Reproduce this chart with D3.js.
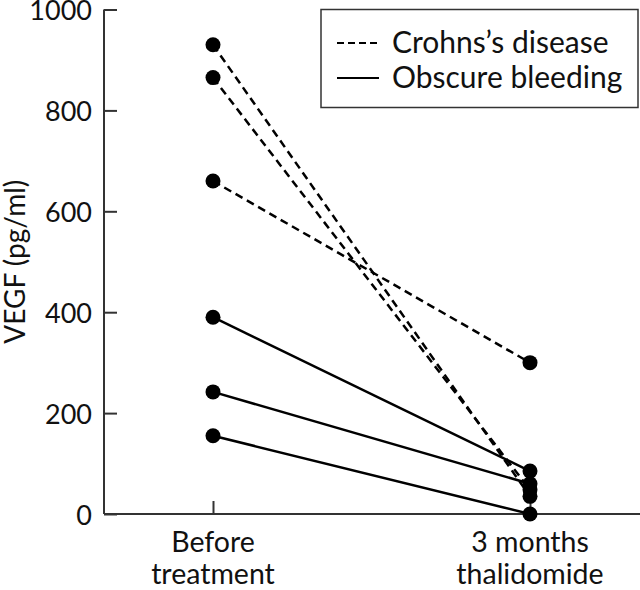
<!DOCTYPE html>
<html><head><meta charset="utf-8">
<script src="https://cdn.jsdelivr.net/npm/d3@7"></script>
<style>body{margin:0;background:#fff}</style>
</head><body>
<svg id="c" width="640" height="590"></svg>
<script>
const categories = ["Before treatment", "3 months thalidomide"];
const categoryLines = [["Before", "treatment"], ["3 months", "thalidomide"]];
const yTicks = [0, 200, 400, 600, 800, 1000];
const crohnsBefore = [930, 865, 660];
const crohnsAfter = [35, 48, 300];
const bleedingBefore = [390, 242, 155];
const bleedingAfter = [85, 60, 0];
const legendLabels = ["Crohns\u2019s disease", "Obscure bleeding"];
const yLabel = "VEGF (pg/ml)";

const FONT = "Lato, 'Noto Sans', sans-serif";
const svg = d3.select("#c");
const x = d3.scalePoint().domain(categories).range([213, 530]);
const y = d3.scaleLinear().domain([0, 1000]).range([514, 9.5]);
const axisColor = "#333";

svg.append("line").attr("x1", 104).attr("x2", 104).attr("y1", y(1000)).attr("y2", y(0))
  .attr("stroke", axisColor).attr("stroke-width", 2);
svg.append("line").attr("x1", 104).attr("x2", 640).attr("y1", y(0)).attr("y2", y(0))
  .attr("stroke", axisColor).attr("stroke-width", 2);

const ya = svg.append("g").attr("transform", "translate(104,0)")
  .call(d3.axisLeft(y).tickValues(yTicks).tickSizeInner(-13).tickSizeOuter(0).tickPadding(12).tickFormat(d3.format("d")));
ya.select(".domain").remove();
ya.selectAll("line").attr("stroke", axisColor).attr("stroke-width", 2);
ya.selectAll("text").attr("font-family", FONT).attr("font-size", 27).attr("fill", "#111").attr("dy", "0.38em");

const xa = svg.append("g").attr("transform", `translate(0,${y(0)})`)
  .call(d3.axisBottom(x).tickSizeInner(-13).tickSizeOuter(0).tickFormat(""));
xa.select(".domain").remove();
xa.selectAll("line").attr("stroke", axisColor).attr("stroke-width", 2);

categories.forEach((c, i) => {
  const t = svg.append("text").attr("x", x(c)).attr("text-anchor", "middle")
    .attr("font-family", FONT).attr("font-size", 28.5).attr("fill", "#111");
  categoryLines[i].forEach((ln, j) => {
    t.append("tspan").attr("x", x(c)).attr("y", 552 + j * 32).text(ln);
  });
});

svg.append("text").attr("transform", `translate(25,${(y(0)+y(1000))/2}) rotate(-90)`)
  .attr("text-anchor", "middle").attr("font-family", FONT).attr("font-size", 28).attr("fill", "#111").text(yLabel);

function drawSeries(before, after, dash) {
  before.forEach((b, i) => {
    svg.append("line").attr("x1", x(categories[0])).attr("y1", y(b))
      .attr("x2", x(categories[1])).attr("y2", y(after[i]))
      .attr("stroke", "#000").attr("stroke-width", 2.5)
      .attr("stroke-dasharray", dash ? "8,5" : null);
  });
}
drawSeries(crohnsBefore, crohnsAfter, true);
drawSeries(bleedingBefore, bleedingAfter, false);

const pts = [];
[crohnsBefore, bleedingBefore].forEach(a => a.forEach(v => pts.push([categories[0], v])));
[crohnsAfter, bleedingAfter].forEach(a => a.forEach(v => pts.push([categories[1], v])));
svg.selectAll("circle.p").data(pts).enter().append("circle")
  .attr("cx", d => x(d[0])).attr("cy", d => y(d[1])).attr("r", 7.5).attr("fill", "#000");

const lg = svg.append("g");
lg.append("rect").attr("x", 321).attr("y", 9.5).attr("width", 317).attr("height", 98)
  .attr("fill", "#fff").attr("stroke", axisColor).attr("stroke-width", 1.5);
[true, false].forEach((dash, i) => {
  const yy = 43 + i * 35;
  lg.append("line").attr("x1", 337).attr("x2", 379).attr("y1", yy).attr("y2", yy)
    .attr("stroke", "#000").attr("stroke-width", 2).attr("stroke-dasharray", dash ? "7,4" : null);
  lg.append("text").attr("x", 392).attr("y", yy + 10).attr("font-family", FONT)
    .attr("font-size", 30).attr("fill", "#111").text(legendLabels[i]);
});
</script>
</body></html>
